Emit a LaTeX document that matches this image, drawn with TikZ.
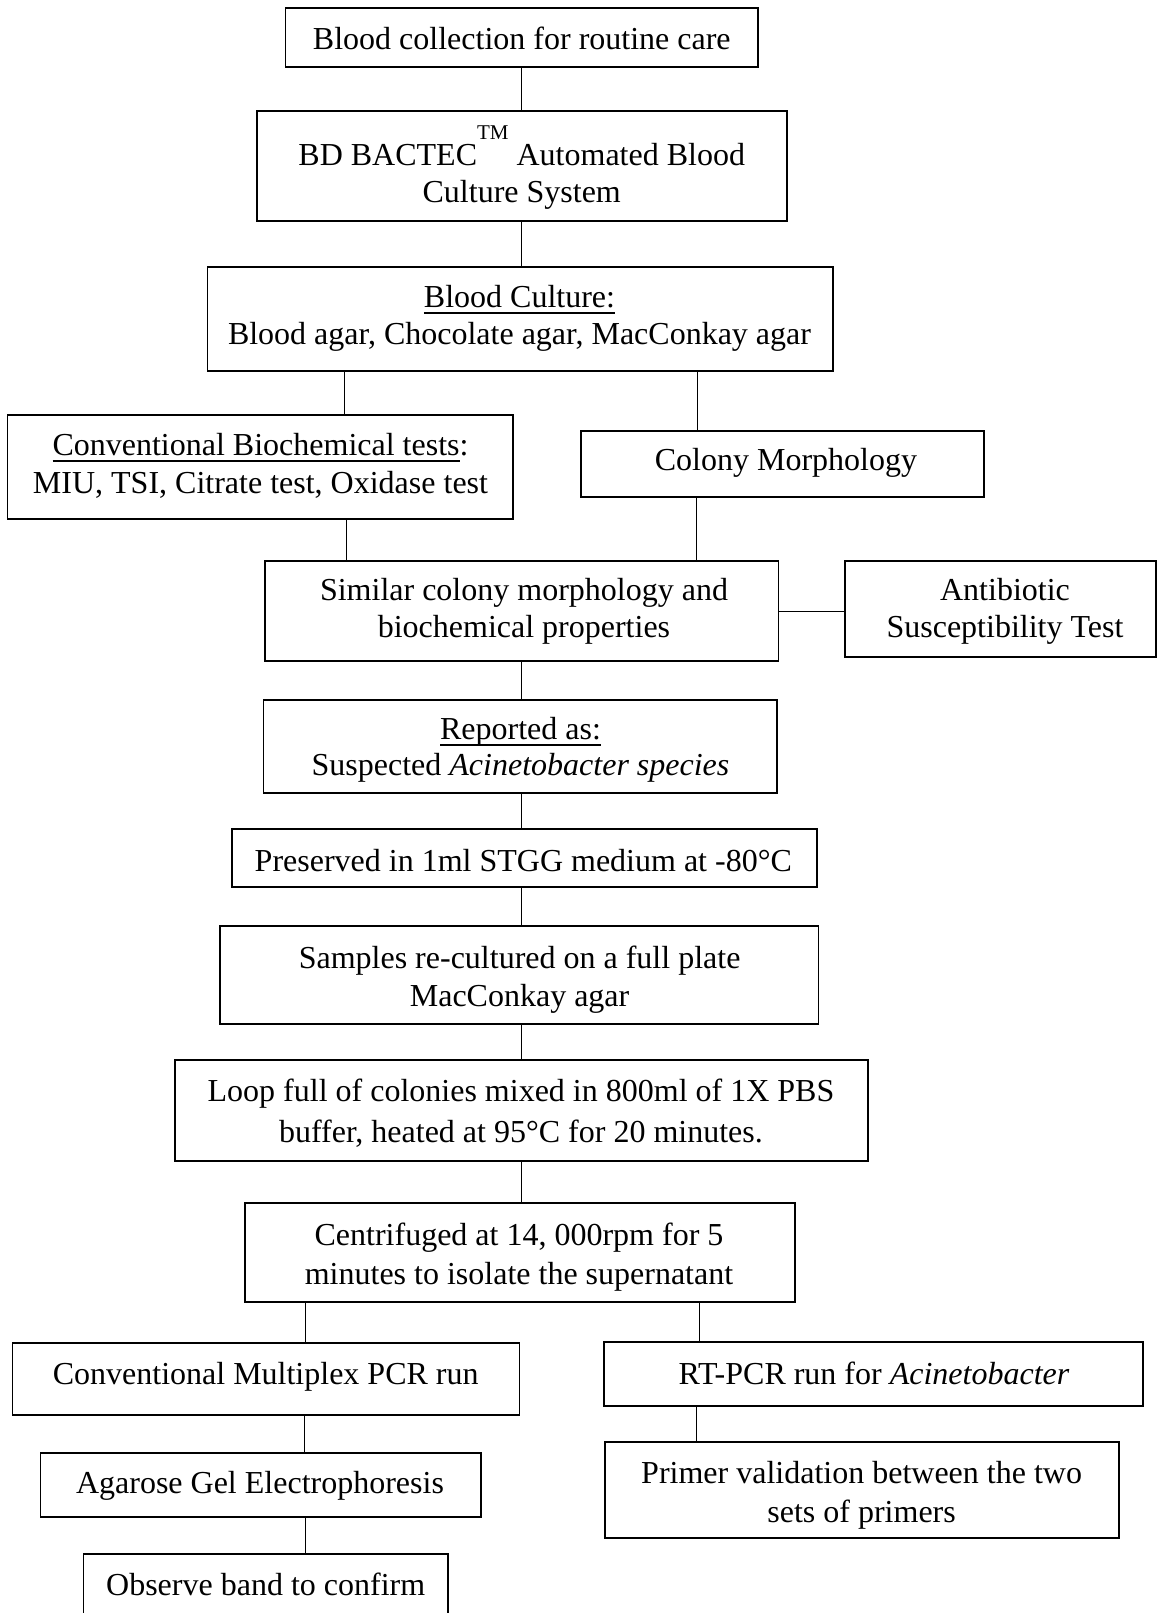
\documentclass[tikz,border=0pt]{standalone}
\usepackage{fontspec}
\setmainfont{Liberation Serif}
\newsavebox\ulinebox
\newcommand{\uln}[1]{\sbox\ulinebox{#1}\rlap{\rule[-6pt]{\wd\ulinebox}{1.5pt}}\usebox\ulinebox}
\newcommand{\twol}[3][0pt]{\begin{tabular}[t]{@{}c@{}}#2\\[#1]#3\end{tabular}}
\begin{document}
\begin{tikzpicture}[x=1pt,y=-1pt,
  box/.style={draw, line width=1.6pt, rectangle, inner sep=0pt},
  lbl/.style={anchor=base, inner sep=0pt, font=\fontsize{32}{37}\selectfont},
  link/.style={line width=1pt}]
\useasboundingbox (0,0) rectangle (1157,1613);
\clip (0,0) rectangle (1157,1613);
% boxes
\node[box, minimum width=472.4, minimum height=59]  (b1)  at (521.8,37.5) {};
\node[box, minimum width=530,   minimum height=110] (b2)  at (521.75,166) {};
\node[box, minimum width=625.6, minimum height=104] (b3)  at (520.2,319) {};
\node[box, minimum width=505.6, minimum height=104] (b4)  at (260.2,467) {};
\node[box, minimum width=402.8, minimum height=66]  (b5)  at (782.4,464) {};
\node[box, minimum width=513.6, minimum height=100] (b6)  at (521.8,611) {};
\node[box, minimum width=310.7, minimum height=96]  (b7)  at (1000.35,609) {};
\node[box, minimum width=513.5, minimum height=93]  (b8)  at (520.25,746.5) {};
\node[box, minimum width=585.3, minimum height=58]  (b9)  at (524.35,858) {};
\node[box, minimum width=598.5, minimum height=98]  (b10) at (519.25,975) {};
\node[box, minimum width=693,   minimum height=101] (b11) at (521.5,1110.5) {};
\node[box, minimum width=550,   minimum height=99]  (b12) at (520,1252.5) {};
\node[box, minimum width=507,   minimum height=72]  (b13) at (266,1379) {};
\node[box, minimum width=539.3, minimum height=64]  (b14) at (873.35,1374) {};
\node[box, minimum width=440.4, minimum height=64]  (b15) at (260.8,1485) {};
\node[box, minimum width=514,   minimum height=96]  (b16) at (862,1490) {};
\node[box, minimum width=364.6, minimum height=100] (b17) at (265.7,1604) {};
% texts
\node[lbl] (t1)  at (521.8,50)  {Blood collection for routine care};
\node[lbl] (t2)  at (521.75,165.5) {\twol{BD BACTEC\raisebox{26pt}{\fontsize{21}{21}\selectfont TM} Automated Blood}{Culture System}};
\node[lbl] (t3)  at (519.5,307.5) {\twol{\uln{Blood Culture:}}{Blood agar, Chocolate agar, MacConkay agar}};
\node[lbl] (t4)  at (260.5,455.5) {\twol[1pt]{\uln{Conventional Biochemical tests}:}{MIU, TSI, Citrate test, Oxidase test}};
\node[lbl] (t5)  at (786,470.5)   {Colony Morphology};
\node[lbl] (t6)  at (524,600.5)   {\twol{Similar colony morphology and}{biochemical properties}};
\node[lbl] (t7)  at (1005,600.5)  {\twol{Antibiotic}{Susceptibility Test}};
\node[lbl] (t8)  at (520.5,739.5) {\twol[-1pt]{\uln{Reported as:}}{Suspected \textit{Acinetobacter species}}};
\node[lbl] (t9)  at (523.3,871) {Preserved in 1ml STGG medium at -80°C};
\node[lbl] (t10) at (519.6,968) {\twol[1pt]{Samples re-cultured on a full plate}{MacConkay agar}};
\node[lbl] (t11) at (521,1101.5)  {\twol[4pt]{Loop full of colonies mixed in 800ml of 1X PBS}{buffer, heated at 95°C for 20 minutes.}};
\node[lbl] (t12) at (519,1245)  {\twol[2pt]{Centrifuged at 14, 000rpm for 5}{minutes to isolate the supernatant}};
\node[lbl] (t13) at (265.7,1384) {Conventional Multiplex PCR run};
\node[lbl] (t14) at (874,1384)  {RT-PCR run for \textit{Acinetobacter}};
\node[lbl] (t15) at (260,1493)  {Agarose Gel Electrophoresis};
\node[lbl] (t16) at (861.6,1483) {\twol[2pt]{Primer validation between the two}{sets of primers}};
\node[lbl] (t17) at (265.7,1595) {Observe band to confirm};
% connector x positions
\coordinate (spine) at (521.5,0);
\coordinate (x34) at (344.6,0);
\coordinate (x35) at (697.4,0);
\coordinate (x46) at (346,0);
\coordinate (x56) at (696,0);
\coordinate (x1213) at (305.5,0);
\coordinate (x1214) at (699,0);
\coordinate (x1315) at (304.5,0);
\coordinate (x1416) at (696.7,0);
\coordinate (x1517) at (305,0);
% connectors
\draw[link] (b1.south -| spine) -- (b2.north -| spine);
\draw[link] (b2.south -| spine) -- (b3.north -| spine);
\draw[link] (b3.south -| x34) -- (b4.north -| x34);
\draw[link] (b3.south -| x35) -- (b5.north -| x35);
\draw[link] (b4.south -| x46) -- (b6.north -| x46);
\draw[link] (b5.south -| x56) -- (b6.north -| x56);
\draw[link] (b6.east) -- (b6.east -| b7.west);
\draw[link] (b6.south -| spine) -- (b8.north -| spine);
\draw[link] (b8.south -| spine) -- (b9.north -| spine);
\draw[link] (b9.south -| spine) -- (b10.north -| spine);
\draw[link] (b10.south -| spine) -- (b11.north -| spine);
\draw[link] (b11.south -| spine) -- (b12.north -| spine);
\draw[link] (b12.south -| x1213) -- (b13.north -| x1213);
\draw[link] (b12.south -| x1214) -- (b14.north -| x1214);
\draw[link] (b13.south -| x1315) -- (b15.north -| x1315);
\draw[link] (b14.south -| x1416) -- (b16.north -| x1416);
\draw[link] (b15.south -| x1517) -- (b17.north -| x1517);
\end{tikzpicture}
\end{document}
